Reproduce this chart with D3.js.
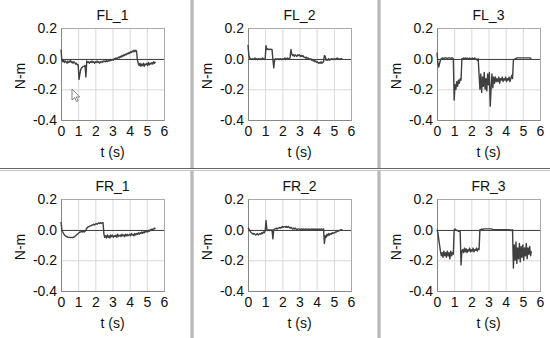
<!DOCTYPE html>
<html>
<head>
<meta charset="utf-8">
<script src="https://cdn.jsdelivr.net/npm/d3@7"></script>
<style>
  body { margin: 0; background: #fff; }
  svg text { font-family: "Liberation Sans", Arial, sans-serif; fill: #111; }
</style>
</head>
<body>
<div id="chart"></div>
<script>
/* ---------------- data ---------------- */

// seconds between two samples of every trace
const sampleStep = 0.05;

const panelTitles = ['FL_1', 'FL_2', 'FL_3', 'FR_1', 'FR_2', 'FR_3'];
const xTicks = [0, 1, 2, 3, 4, 5, 6];
const yTicks = [0.2, 0.0, -0.2, -0.4];

// torque traces (N-m), one value per sample, t = 0 .. 5.5 s
const fl1 = [
    0.06, -0.01, -0.02, -0.01, -0.025, -0.015, -0.02, -0.03, -0.015, -0.025,
    -0.02, -0.01, -0.025, -0.02, -0.03, -0.02, -0.025, -0.035, -0.03, -0.04,
    -0.04, -0.135, -0.10, -0.07, -0.06, -0.055, -0.05, -0.05, -0.045, -0.12,
    -0.015, -0.025, -0.02, -0.03, -0.02, -0.025, -0.015, -0.025, -0.02, -0.03,
    -0.02, -0.025, -0.015, -0.025, -0.02, -0.03, -0.02, -0.02, -0.025, -0.015,
    -0.02, -0.015, -0.02, -0.01, -0.02, -0.015, -0.01, -0.015, -0.005, -0.01,
    -0.005, -0.01, 0.0, -0.005, 0.005, 0.0, 0.005, 0.01, 0.005, 0.015,
    0.01, 0.02, 0.015, 0.025, 0.02, 0.03, 0.025, 0.035, 0.03, 0.04,
    0.035, 0.045, 0.04, 0.05, 0.045, 0.055, 0.045, 0.055, 0.05, -0.01,
    -0.03, -0.045, -0.03, -0.05, -0.035, -0.045, -0.03, -0.05, -0.035, -0.04,
    -0.03, -0.045, -0.025, -0.04, -0.03, -0.035, -0.025, -0.035, -0.02, -0.03, -0.02
];

const fl2 = [
    0.09, 0.02, 0.005, 0.0, -0.005, 0.0, -0.005, 0.0, 0.005, -0.005,
    0.0, -0.005, 0.0, 0.0, -0.005, 0.0, -0.005, 0.005, 0.0, -0.005,
    0.0, 0.085, 0.06, 0.065, 0.06, 0.06, 0.062, 0.06, 0.06, -0.005,
    -0.06, -0.01, 0.0, -0.005, 0.0, -0.005, 0.0, -0.005, 0.0, -0.005,
    0.0, -0.005, 0.0, 0.005, -0.005, 0.0, 0.005, 0.0, 0.0, 0.005,
    0.06, 0.03, 0.02, 0.025, 0.015, 0.025, 0.02, 0.015, 0.025, 0.02,
    0.025, 0.015, 0.02, 0.015, 0.02, 0.01, 0.01, 0.005, 0.01, 0.0,
    0.005, 0.0, -0.005, 0.0, -0.01, -0.005, -0.015, -0.01, -0.02, -0.015,
    -0.025, -0.02, -0.03, -0.025, -0.03, -0.02, -0.03, -0.025, -0.02, 0.02,
    0.015, -0.01, -0.005, -0.01, 0.0, -0.01, -0.005, 0.0, -0.005, 0.0,
    -0.005, 0.0, -0.005, 0.0, 0.005, -0.005, 0.0, -0.005, 0.0, 0.0, 0.0
];

const fl3 = [
    0.04, -0.03, -0.055, -0.03, -0.01, 0.0, 0.005, 0.005, 0.0, 0.005,
    0.005, 0.005, 0.0, 0.005, 0.005, 0.005, 0.0, 0.005, 0.005, 0.0,
    -0.27, -0.17, -0.20, -0.15, -0.18, -0.14, -0.16, -0.13, -0.14, 0.0,
    0.0, 0.005, 0.0, 0.005, 0.0, 0.005, 0.0, 0.0, 0.005, 0.0,
    0.0, 0.005, 0.0, 0.0, 0.005, 0.0, -0.005, -0.01, 0.0, -0.10,
    -0.20, -0.10, -0.22, -0.12, -0.18, -0.09, -0.20, -0.13, -0.21, -0.10,
    -0.17, -0.09, -0.31, -0.20, -0.10, -0.19, -0.12, -0.16, -0.12, -0.15,
    -0.13, -0.15, -0.12, -0.16, -0.13, -0.14, -0.12, -0.15, -0.13, -0.14,
    -0.12, -0.15, -0.13, -0.14, -0.12, -0.15, -0.13, -0.11, -0.13, -0.01,
    -0.005, 0.0, 0.0, 0.005, 0.005, 0.005, 0.005, 0.005, 0.005, 0.005,
    0.005, 0.005, 0.005, 0.005, 0.005, 0.005, 0.005, 0.005, 0.005, 0.003, 0.003
];

const fr1 = [
    0.05, 0.0, -0.015, -0.025, -0.035, -0.04, -0.045, -0.045, -0.05, -0.05,
    -0.05, -0.052, -0.05, -0.052, -0.05, -0.048, -0.045, -0.04, -0.035, -0.03,
    -0.025, -0.02, -0.015, -0.015, -0.01, -0.015, -0.01, -0.015, -0.01, -0.005,
    0.01, 0.015, 0.02, 0.02, 0.025, 0.025, 0.03, 0.03, 0.035, 0.03,
    0.035, 0.04, 0.035, 0.04, 0.045, 0.04, 0.045, 0.04, 0.045, 0.045,
    -0.03, -0.05, -0.04, -0.055, -0.035, -0.05, -0.04, -0.055, -0.035, -0.045,
    -0.035, -0.05, -0.04, -0.045, -0.035, -0.05, -0.03, -0.045, -0.04, -0.035,
    -0.045, -0.03, -0.04, -0.035, -0.045, -0.03, -0.04, -0.03, -0.04, -0.035,
    -0.03, -0.04, -0.025, -0.035, -0.03, -0.04, -0.025, -0.035, -0.025, -0.03,
    -0.02, -0.03, -0.02, -0.025, -0.015, -0.025, -0.015, -0.02, -0.01, -0.015,
    -0.01, -0.015, -0.005, -0.01, 0.0, -0.005, 0.005, 0.0, 0.005, 0.01, 0.005
];

const fr2 = [
    0.01, 0.005, -0.005, -0.015, -0.02, -0.025, -0.03, -0.025, -0.03, -0.035,
    -0.03, -0.025, -0.035, -0.03, -0.025, -0.03, -0.02, -0.025, -0.015, -0.02,
    -0.01, 0.06, 0.0, -0.005, 0.0, -0.005, 0.0, -0.005, 0.0, -0.06,
    0.0, 0.005, 0.005, 0.01, 0.005, 0.01, 0.01, 0.015, 0.01, 0.015,
    0.02, 0.015, 0.02, 0.02, 0.015, 0.02, 0.015, 0.02, 0.015, 0.01,
    0.015, 0.01, 0.005, 0.01, 0.005, 0.01, 0.005, 0.0, 0.005, 0.005,
    0.005, 0.0, 0.005, 0.005, 0.0, 0.005, 0.0, 0.005, 0.005, 0.0,
    0.005, 0.0, 0.005, 0.0, 0.005, 0.005, 0.0, 0.005, 0.0, 0.005,
    0.0, 0.005, 0.0, 0.005, 0.0, 0.005, 0.005, 0.0, 0.005, -0.09,
    -0.04, -0.05, -0.03, -0.04, -0.025, -0.035, -0.025, -0.03, -0.02, -0.025,
    -0.02, -0.02, -0.015, -0.015, -0.01, -0.01, -0.005, -0.005, 0.0, 0.0, 0.0
];

const fr3 = [
    0.0, -0.02, -0.06, -0.10, -0.14, -0.17, -0.15, -0.18, -0.14, -0.17,
    -0.15, -0.18, -0.14, -0.17, -0.15, -0.19, -0.14, -0.17, -0.15, -0.16,
    0.0, 0.005, 0.0, -0.005, -0.005, -0.01, -0.01, -0.01, -0.23, -0.14,
    -0.13, -0.15, -0.12, -0.145, -0.125, -0.15, -0.13, -0.14, -0.12, -0.145,
    -0.13, -0.14, -0.12, -0.145, -0.13, -0.135, -0.12, -0.14, -0.125, -0.13,
    0.0, 0.0, 0.005, 0.0, 0.005, 0.005, 0.005, 0.005, 0.005, 0.005,
    0.005, 0.005, 0.005, 0.005, 0.005, 0.0, 0.0, 0.0, 0.0, 0.0,
    0.0, 0.0, 0.0, 0.0, 0.0, 0.0, 0.0, 0.0, 0.0, 0.0,
    0.0, 0.0, 0.0, 0.0, 0.0, -0.005, 0.0, -0.005, 0.0, -0.25,
    -0.10, -0.20, -0.08, -0.22, -0.12, -0.19, -0.09, -0.21, -0.11, -0.18,
    -0.10, -0.20, -0.12, -0.17, -0.09, -0.19, -0.12, -0.16, -0.11, -0.17, -0.14
];

const traces = [fl1, fl2, fl3, fr1, fr2, fr3];

/* ---------------- layout ---------------- */

const svgWidth = 550;
const svgHeight = 338;

const colLeft = [61, 248, 437];
const rowTop = [28, 199];
const plotW = 103;
const plotH = 92;

const svg = d3.select('#chart')
    .append('svg')
        .attr('width', svgWidth)
        .attr('height', svgHeight);

const x = d3.scaleLinear().domain([0, 6]).range([0, plotW]);
const y = d3.scaleLinear().domain([-0.4, 0.2]).range([plotH, 0]);

const line = d3.line()
    .x((_, i) => x(i * sampleStep))
    .y(v => y(v));

/* ---------------- panels ---------------- */

traces.forEach((values, k) => {
    const g = svg.append('g')
        .attr('transform', `translate(${colLeft[k % 3]}, ${rowTop[Math.floor(k / 3)]})`);

    // grid
    g.append('g')
        .attr('transform', `translate(0, ${plotH})`)
        .call(d3.axisBottom(x).tickValues(xTicks).tickSize(-plotH).tickFormat(''))
        .call(a => a.select('.domain').remove())
        .selectAll('line').attr('stroke', '#d8d8d8');

    g.append('g')
        .call(d3.axisLeft(y).tickValues(yTicks).tickSize(-plotW).tickFormat(''))
        .call(a => a.select('.domain').remove())
        .selectAll('line').attr('stroke', '#d8d8d8');

    // frame: light top/right, darker left/bottom
    g.append('rect')
        .attr('x', 0.5).attr('y', 0.5)
        .attr('width', plotW).attr('height', plotH)
        .attr('fill', 'none').attr('stroke', '#aaa');
    g.append('path')
        .attr('d', `M0.5,0.5V${plotH + 0.5}H${plotW + 0.5}`)
        .attr('fill', 'none').attr('stroke', '#888');

    // zero line
    g.append('line')
        .attr('x1', 0).attr('x2', plotW)
        .attr('y1', Math.round(y(0)) + 0.5).attr('y2', Math.round(y(0)) + 0.5)
        .attr('stroke', '#444');

    // trace
    g.append('path')
        .datum(values)
        .attr('d', line)
        .attr('fill', 'none')
        .attr('stroke', '#404040')
        .attr('stroke-width', 1.4)
        .attr('stroke-linejoin', 'round');

    // tick labels
    g.append('g')
        .attr('transform', `translate(0, ${plotH})`)
        .call(d3.axisBottom(x).tickValues(xTicks).tickSize(0).tickPadding(6).tickFormat(d3.format('d')))
        .call(a => a.select('.domain').remove())
        .selectAll('text').attr('font-size', 14).attr('fill', '#111');

    g.append('g')
        .call(d3.axisLeft(y).tickValues(yTicks).tickSize(0).tickPadding(4).tickFormat(d => d.toFixed(1)))
        .call(a => a.select('.domain').remove())
        .selectAll('text').attr('font-size', 14).attr('fill', '#111');

    // title and axis names
    g.append('text')
        .attr('x', plotW / 2).attr('y', -8)
        .attr('text-anchor', 'middle')
        .attr('font-size', 14)
        .text(panelTitles[k]);

    g.append('text')
        .attr('transform', `translate(-41, ${plotH / 2 + 2}) rotate(-90)`)
        .attr('text-anchor', 'middle')
        .attr('dy', '0.35em')
        .attr('font-size', 14)
        .text('N-m');

    g.append('text')
        .attr('x', plotW / 2).attr('y', plotH + 37)
        .attr('text-anchor', 'middle')
        .attr('font-size', 14)
        .text('t (s)');
});

/* ---------------- window dividers ---------------- */

[190.5, 377.5].forEach(xd => {
    svg.append('rect')
        .attr('x', xd).attr('y', 0)
        .attr('width', 3).attr('height', svgHeight)
        .attr('fill', '#a4a4a4');
    svg.append('line')
        .attr('x1', xd + 1.5).attr('x2', xd + 1.5)
        .attr('y1', 0).attr('y2', svgHeight)
        .attr('stroke', '#cfcfcf');
});

svg.append('line')
    .attr('x1', 0).attr('x2', svgWidth)
    .attr('y1', 168.5).attr('y2', 168.5)
    .attr('stroke', '#666');
svg.append('line')
    .attr('x1', 0).attr('x2', svgWidth)
    .attr('y1', 169.5).attr('y2', 169.5)
    .attr('stroke', '#fff');
svg.append('line')
    .attr('x1', 0).attr('x2', svgWidth)
    .attr('y1', 170.5).attr('y2', 170.5)
    .attr('stroke', '#c4c4c4');

// mouse pointer left in the screenshot
svg.append('path')
    .attr('transform', 'translate(72, 89)')
    .attr('d', 'M0,0V11L2.6,8.6L4.6,12.6L6.2,11.8L4.3,8H7.8Z')
    .attr('fill', '#fff')
    .attr('stroke', '#666')
    .attr('stroke-width', 0.8);
</script>
</body>
</html>
